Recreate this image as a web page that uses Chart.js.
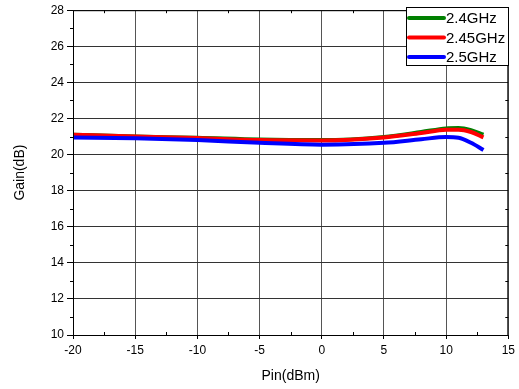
<!DOCTYPE html>
<html>
<head>
<meta charset="utf-8">
<script src="https://cdn.jsdelivr.net/npm/chart.js@4/dist/chart.umd.min.js"></script>
<style>
  body { margin: 0; background: #fff; }
  #wrap { width: 519px; height: 389px; }
</style>
</head>
<body>
<div id="wrap"><canvas id="gainChart" width="519" height="389"></canvas></div>
<script>
// Pin (dBm) sample points
const pin = [-20, -15, -10, -5, 0, 5, 8, 10, 11, 12, 13];
const gain24 = [21.1, 21.0, 20.93, 20.83, 20.8, 20.98, 21.25, 21.45, 21.47, 21.35, 21.1];
const gain245 = [21.1, 21.0, 20.92, 20.8, 20.78, 20.95, 21.2, 21.37, 21.38, 21.25, 20.95];
const gain25 = [20.95, 20.9, 20.8, 20.65, 20.55, 20.65, 20.85, 20.97, 20.93, 20.65, 20.25];
const seriesLabels = ['2.4GHz', '2.45GHz', '2.5GHz'];
const seriesColors = ['#008000', '#ff0000', '#0000ff'];
const xTicks = [-20, -15, -10, -5, 0, 5, 10, 15];
const yTicks = [10, 12, 14, 16, 18, 20, 22, 24, 26, 28];

const FONT = 'Liberation Sans, Arial, sans-serif';

function pts(ys) {
    return pin.map((x, i) => ({ x: x, y: ys[i] }));
}

// frame, minor ticks and legend box
const decor = {
    id: 'decor',
    afterDatasetsDraw(chart) {
        const c = chart.ctx;
        const a = chart.chartArea;
        const xs = chart.scales.x, ys = chart.scales.y;
        c.save();
        c.strokeStyle = '#000';
        c.lineWidth = 1;
        c.strokeRect(a.left + 0.5, a.top + 0.5, a.right - a.left - 1, a.bottom - a.top);
        c.beginPath();
        // minor ticks on y (odd values)
        for (let v = 11; v < 28; v += 2) {
            const y = Math.round(ys.getPixelForValue(v)) + 0.5;
            c.moveTo(a.left - 3, y); c.lineTo(a.left, y);
            c.moveTo(a.right, y); c.lineTo(a.right - 3, y);
        }
        // minor ticks on x
        for (let v = -17.5; v < 15; v += 5) {
            const x = Math.round(xs.getPixelForValue(v)) + 0.5;
            c.moveTo(x, a.bottom); c.lineTo(x, a.bottom - 3);
            c.moveTo(x, a.top); c.lineTo(x, a.top + 3);
        }
        c.stroke();

        // legend
        const lx = 406, ly = 7, lw = 103, lh = 59;
        c.fillStyle = '#fff';
        c.fillRect(lx, ly, lw, lh);
        c.strokeRect(lx + 0.5, ly + 0.5, lw - 1, lh - 1);
        c.font = '15px ' + FONT;
        c.textBaseline = 'middle';
        seriesLabels.forEach((lab, i) => {
            const yy = ly + 11 + i * 19.5;
            c.strokeStyle = seriesColors[i];
            c.lineWidth = 4;
            c.lineCap = 'round';
            c.beginPath();
            c.moveTo(lx + 3, yy); c.lineTo(lx + 38, yy);
            c.stroke();
            c.fillStyle = '#000';
            c.fillText(lab, lx + 40, yy + 1);
        });
        c.restore();
    }
};

const datasets = [gain24, gain245, gain25].map((d, i) => ({
    label: seriesLabels[i],
    data: pts(d),
    borderColor: seriesColors[i],
    backgroundColor: seriesColors[i],
    borderWidth: 4,
    pointRadius: 0,
    cubicInterpolationMode: 'monotone',
    fill: false,
    order: 3 - i
}));

const ctx = document.getElementById('gainChart').getContext('2d');
const gainChart = new Chart(ctx, {
    type: 'line',
    data: { datasets: datasets },
    options: {
        responsive: false,
        animation: false,
        layout: { padding: { top: 9, right: 9, left: 0, bottom: 0 } },
        plugins: {
            legend: { display: false },
            tooltip: { enabled: false }
        },
        scales: {
            x: {
                type: 'linear',
                min: -20,
                max: 15,
                afterBuildTicks: s => { s.ticks = xTicks.map(v => ({ value: v })); },
                afterFit: s => { s.height = 54; },
                grid: { color: '#555', lineWidth: 1, tickLength: 4, tickColor: '#000', drawTicks: true },
                border: { display: false },
                ticks: { color: '#000', font: { family: FONT, size: 12 }, padding: 4, maxRotation: 0 },
                title: { display: true, text: 'Pin(dBm)', color: '#000', font: { family: FONT, size: 14 }, padding: { top: 4 } }
            },
            y: {
                min: 10,
                max: 28,
                afterBuildTicks: s => { s.ticks = yTicks.map(v => ({ value: v })); },
                afterFit: s => { s.width = 73; },
                grid: { color: '#333', lineWidth: 1, tickLength: 6, tickColor: '#000' },
                border: { display: false },
                ticks: { color: '#000', font: { family: FONT, size: 12 }, padding: 3 },
                title: { display: true, text: 'Gain(dB)', color: '#000', font: { family: FONT, size: 14 }, padding: { top: 12, bottom: 0 } }
            }
        }
    },
    plugins: [decor]
});
</script>
</body>
</html>
